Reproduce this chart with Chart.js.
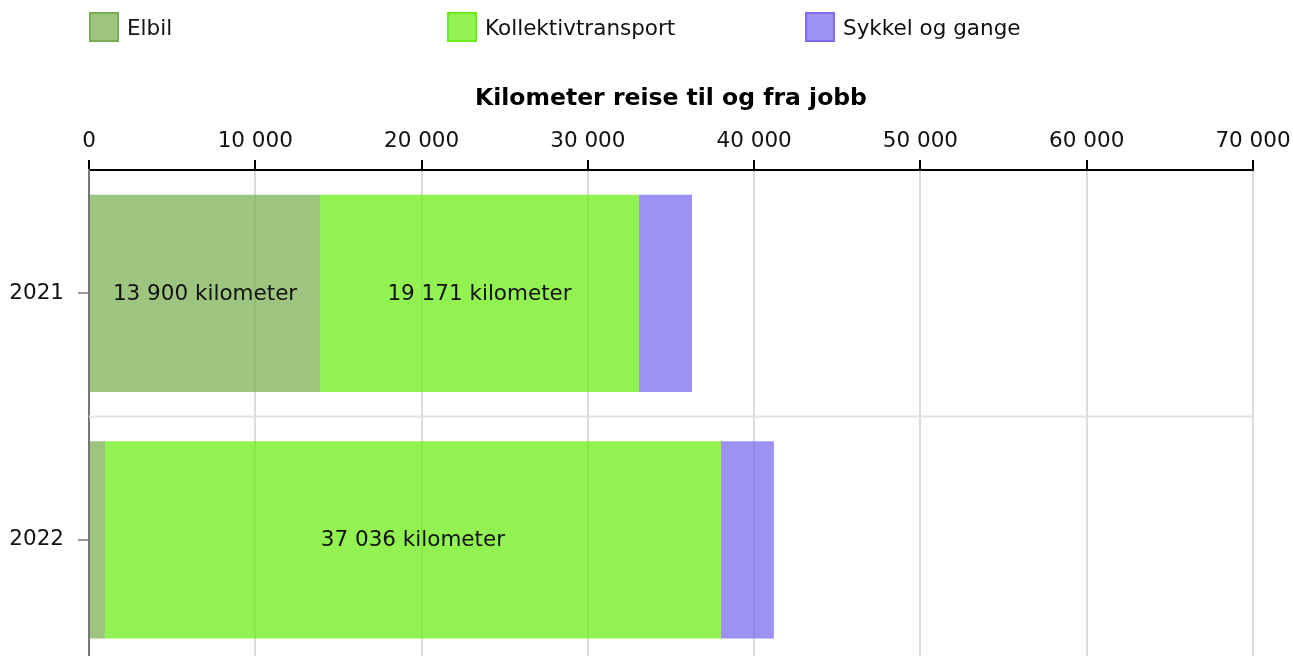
<!DOCTYPE html>
<html>
<head>
<meta charset="utf-8">
<script src="https://cdn.jsdelivr.net/npm/chart.js@4.4.1/dist/chart.umd.min.js"></script>
<style>
  body { margin: 0; overflow: hidden; background: #fff; font-family: "DejaVu Sans", Verdana, sans-serif; }
  #wrap { position: relative; width: 1293px; height: 656px; overflow: hidden; }
  canvas { position: absolute; left: 0; top: 0; }
  .item { position: absolute; top: 12px; display: flex; align-items: center; font-size: 21.5px; color: #111; }
  .box { width: 26px; height: 26px; border: 2px solid; margin-right: 8px; }
</style>
</head>
<body>
<div id="wrap">
  <canvas id="chart" width="1293" height="690"></canvas>
  <div id="legend"></div>
</div>
<script>
// data
const years = ['2021', '2022'];
const elbil = [13900, 962];
const kollektiv = [19171, 37036];
const sykkel = [3190, 3190];
const seriesNames = ['Elbil', 'Kollektivtransport', 'Sykkel og gange'];
const xMax = 70000;
const xStep = 10000;

// farger
const fills = ['rgba(115,172,72,0.7)', 'rgba(100,236,8,0.7)', 'rgba(115,99,237,0.7)'];
const borders = ['rgba(110,170,75,0.8)', 'rgba(100,236,8,0.85)', 'rgba(115,99,237,0.8)'];

const fmt = v => String(v).replace(/\B(?=(\d{3})+(?!\d))/g, ' ');

Chart.defaults.font.family = '"DejaVu Sans", Verdana, sans-serif';
Chart.defaults.font.size = 21.5;
Chart.defaults.color = '#111';

// HTML legend
const legendEl = document.getElementById('legend');
const legendX = [89, 447, 805];
seriesNames.forEach((name, i) => {
  const d = document.createElement('div');
  d.className = 'item';
  d.style.left = legendX[i] + 'px';
  d.innerHTML = '<span class="box" style="background:' + fills[i] + ';border-color:' + borders[i] + '"></span>' + name;
  legendEl.appendChild(d);
});

// skillelinje mellom kategorier
const separator = {
  id: 'separator',
  beforeDatasetsDraw(chart) {
    const y = chart.scales.y, area = chart.chartArea, ctx = chart.ctx;
    ctx.save();
    ctx.strokeStyle = '#e2e2e2';
    ctx.lineWidth = 2;
    for (let i = 0; i < years.length - 1; i++) {
      const py = (y.getPixelForValue(i) + y.getPixelForValue(i + 1)) / 2;
      ctx.beginPath();
      ctx.moveTo(area.left, py);
      ctx.lineTo(area.right, py);
      ctx.stroke();
    }
    ctx.restore();
  }
};

// tekst inne i segmentene
const segLabels = {
  id: 'segLabels',
  afterDatasetsDraw(chart) {
    const ctx = chart.ctx;
    ctx.save();
    ctx.font = '21.5px "DejaVu Sans", Verdana, sans-serif';
    ctx.fillStyle = '#111';
    ctx.textAlign = 'center';
    ctx.textBaseline = 'middle';
    chart.data.datasets.forEach((ds, di) => {
      chart.getDatasetMeta(di).data.forEach((bar, i) => {
        const txt = fmt(ds.data[i]) + ' kilometer';
        const w = Math.abs(bar.x - bar.base);
        if (ctx.measureText(txt).width + 12 > w) return;
        ctx.fillText(txt, (bar.x + bar.base) / 2, bar.y + 1);
      });
    });
    ctx.restore();
  }
};

const ctx = document.getElementById('chart').getContext('2d');
new Chart(ctx, {
  type: 'bar',
  data: {
    labels: years,
    datasets: [
      { label: seriesNames[0], data: elbil, backgroundColor: fills[0] },
      { label: seriesNames[1], data: kollektiv, backgroundColor: fills[1] },
      { label: seriesNames[2], data: sykkel, backgroundColor: fills[2] }
    ]
  },
  options: {
    indexAxis: 'y',
    responsive: false,
    animation: false,
    barPercentage: 0.8,
    categoryPercentage: 1.0,
    layout: { padding: { top: 85, right: 40, left: 0, bottom: 5 } },
    plugins: { legend: { display: false }, tooltip: { enabled: false } },
    scales: {
      x: {
        position: 'top',
        stacked: true,
        min: 0,
        max: xMax,
        ticks: { stepSize: xStep, padding: 6, callback: v => fmt(v), maxRotation: 0 },
        grid: { color: '#dcdcdc', lineWidth: 2, tickColor: '#000', tickLength: 10 },
        border: { color: '#000', width: 2 },
        title: {
          display: true,
          text: 'Kilometer reise til og fra jobb',
          font: { weight: 'bold', size: 23.5 },
          color: '#000',
          padding: { top: 0, bottom: 9 }
        },
        afterFit: s => { s.paddingRight = 0; s.paddingLeft = 0; }
      },
      y: {
        stacked: true,
        ticks: { padding: 14 },
        grid: { offset: false, drawOnChartArea: false, tickLength: 11, tickColor: '#999', lineWidth: 2 },
        border: { color: '#777', width: 2 },
        afterFit: s => { s.width = 89; }
      }
    }
  },
  plugins: [separator, segLabels]
});
</script>
</body>
</html>
